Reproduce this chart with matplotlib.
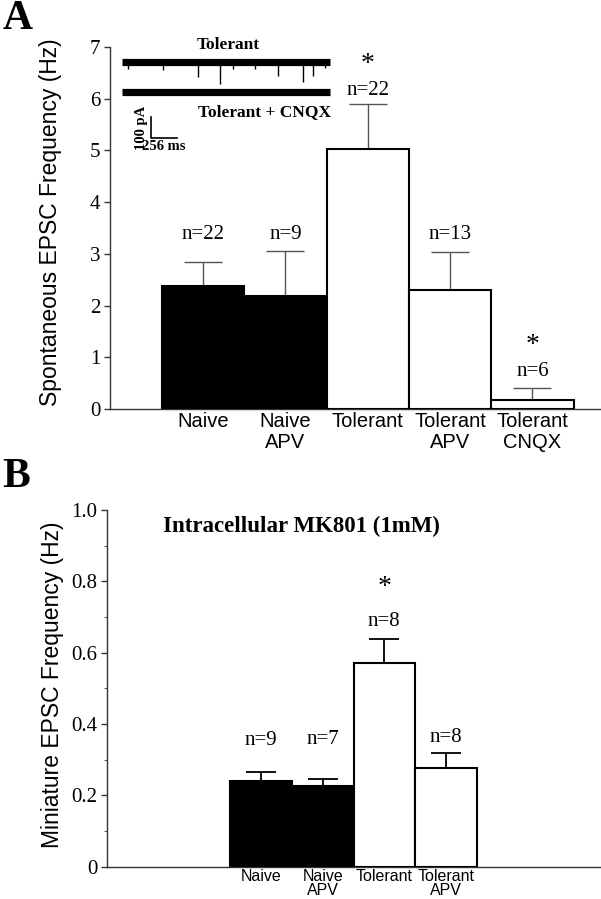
"""Two-panel EPSC frequency bar chart with an inset trace sketch."""

import numpy as np
import matplotlib
matplotlib.use("Agg")
import matplotlib.pyplot as plt  # noqa: E402

W, H = 601, 899
SERIF = "Liberation Serif"
SANS = "Liberation Sans"

# panel A: spontaneous EPSC frequency (Hz)
cats_a = ["Naive", "Naive\nAPV", "Tolerant", "Tolerant\nAPV", "Tolerant\nCNQX"]
mean_a = [2.37, 2.19, 5.03, 2.31, 0.17]
sem_a = [0.48, 0.87, 0.87, 0.73, 0.24]
n_a = [22, 9, 22, 13, 6]
sig_a = [False, False, True, False, True]
fill_a = ["black", "black", "white", "white", "white"]

# panel B: miniature EPSC frequency (Hz), intracellular MK801
cats_b = ["Naive", "Naive\nAPV", "Tolerant", "Tolerant\nAPV"]
mean_b = [0.241, 0.227, 0.571, 0.276]
sem_b = [0.024, 0.020, 0.068, 0.042]
n_b = [9, 7, 8, 8]
sig_b = [False, False, True, False]
fill_b = ["black", "black", "white", "white"]

# inset: spontaneous events in the "Tolerant" trace (ms, pA)
event_t = [59, 404, 748, 965, 1093, 1310, 1536, 1782, 1881, 2000]
event_amp = [-35, -40, -75, -105, -35, -35, -70, -95, -70, -30]
trace_ms = 2048
cnqx_offset = -143


def px_axes(fig, x0, y0, x1, y1):
    """Axes from pixel box (top-left origin)."""
    return fig.add_axes([x0 / W, 1 - y1 / H, (x1 - x0) / W, (y1 - y0) / H])


def bar_panel(ax, cats, means, sems, fills, ns, sigs, xlim, ylim, n_off,
              star_off, ecolor, elw, cap, label_size, spacing):
    x = np.arange(len(cats))
    ax.bar(x, means, width=1.0, color=fills, edgecolor="black",
           linewidth=1.5, zorder=3)
    ax.errorbar(x, means, yerr=[np.zeros(len(x)), sems], fmt="none",
                ecolor=ecolor, elinewidth=elw, capsize=cap, capthick=elw,
                zorder=2)
    for xi, m, s, n, sig, off in zip(x, means, sems, ns, sigs, n_off):
        ax.annotate(f"n={n}", (xi, m + s), xytext=(0, off),
                    textcoords="offset pixels", ha="center", va="center",
                    family=SERIF, fontsize=15)
        if sig:
            ax.annotate("*", (xi, m + s), xytext=(0, off + star_off),
                        textcoords="offset pixels", ha="center", va="center",
                        family=SERIF, fontsize=20)
    ax.set_xlim(*xlim)
    ax.set_ylim(*ylim)
    ax.set_xticks(x)
    ax.set_xticklabels(cats, family=SANS, fontsize=label_size,
                       linespacing=spacing)
    ax.tick_params(axis="x", length=0, pad=2)
    ax.tick_params(axis="y", direction="out", length=4, width=1,
                   color="#333333", pad=3, labelsize=15)
    for t in ax.get_yticklabels():
        t.set_family(SERIF)
    for side in ("top", "right"):
        ax.spines[side].set_visible(False)
    for side in ("left", "bottom"):
        ax.spines[side].set_linewidth(1.0)
        ax.spines[side].set_color("#333333")


fig = plt.figure(figsize=(W / 100, H / 100), dpi=100)

# ---- panel A
ax_a = px_axes(fig, 110, 47, 600, 409)
bar_panel(ax_a, cats_a, mean_a, sem_a, fill_a, n_a, sig_a,
          xlim=(-1.13, 4.82), ylim=(0, 7),
          n_off=[27, 16, 13, 17, 16], star_off=26,
          ecolor="#555555", elw=1.0, cap=14, label_size=14.5, spacing=1.12)
ax_a.set_yticks(range(8))
ax_a.set_yticklabels([str(v) for v in range(8)], family=SERIF)
fig.text(51 / W, 1 - 222 / H, "Spontaneous EPSC Frequency (Hz)",
         rotation=90, ha="center", va="center", family=SANS, fontsize=16.5)
fig.text(18 / W, 1 - 19 / H, "A", ha="center", va="center", family=SERIF,
         fontweight="bold", fontsize=30)

# inset traces: 256 ms = 26 px, 100 pA = 21 px
ms_px, pa_px = 256 / 26, 100 / 21
ax_in = px_axes(fig, 115, 35, 345, 155)
ax_in.set_xlim(-7 * ms_px, 223 * ms_px)
ax_in.set_ylim(-(155 - 61.7) * pa_px, (61.7 - 35) * pa_px)
ax_in.axis("off")
ax_in.plot([0, trace_ms], [0, 0], color="black", lw=5.2,
           solid_capstyle="butt")
ax_in.vlines(event_t, 0, event_amp, color="black", lw=1.0)
ax_in.plot([0, trace_ms], [cnqx_offset, cnqx_offset], color="black", lw=5.2,
           solid_capstyle="butt")
sb_x, sb_y = 29 * ms_px, -(138 - 61.7) * pa_px
ax_in.plot([sb_x, sb_x, sb_x + 256], [sb_y + 100, sb_y, sb_y],
           color="black", lw=1.2)
ax_in.text(1044, 80, "Tolerant", ha="center", va="center", family=SERIF,
           fontweight="bold", fontsize=12.5)
ax_in.text(1408, -240, "Tolerant + CNQX", ha="center", va="center",
           family=SERIF, fontweight="bold", fontsize=12.5)
ax_in.text(sb_x - 10 * ms_px, sb_y + 50, "100 pA", rotation=90, ha="center",
           va="center", family=SERIF, fontweight="bold", fontsize=10.5)
ax_in.text(sb_x + 128, sb_y - 9 * pa_px, "256 ms", ha="center", va="center",
           family=SERIF, fontweight="bold", fontsize=10.5)

# ---- panel B
ax_b = px_axes(fig, 107, 510, 600, 866.7)
bar_panel(ax_b, cats_b, mean_b, sem_b, fill_b, n_b, sig_b,
          xlim=(-2.5, 5.5), ylim=(0, 1.0),
          n_off=[32, 39, 17, 16], star_off=34,
          ecolor="black", elw=1.3, cap=10.5, label_size=11.5, spacing=0.85)
ax_b.set_yticks([0, 0.2, 0.4, 0.6, 0.8, 1.0])
ax_b.set_yticklabels(["0", "0.2", "0.4", "0.6", "0.8", "1.0"], family=SERIF)
ax_b.set_yticks(np.arange(0.1, 1.0, 0.2), minor=True)
ax_b.tick_params(axis="y", which="minor", direction="out", length=2,
                 color="#333333")
fig.text(53 / W, 1 - 685 / H, "Miniature EPSC Frequency (Hz)",
         rotation=90, ha="center", va="center", family=SANS, fontsize=16.5)
fig.text(163 / W, 1 - 532 / H, "Intracellular MK801 (1mM)", ha="left",
         va="baseline", family=SERIF, fontweight="bold", fontsize=16.5)
fig.text(16 / W, 1 - 477 / H, "B", ha="center", va="center", family=SERIF,
         fontweight="bold", fontsize=30)

fig.savefig("out.png", dpi=100)
